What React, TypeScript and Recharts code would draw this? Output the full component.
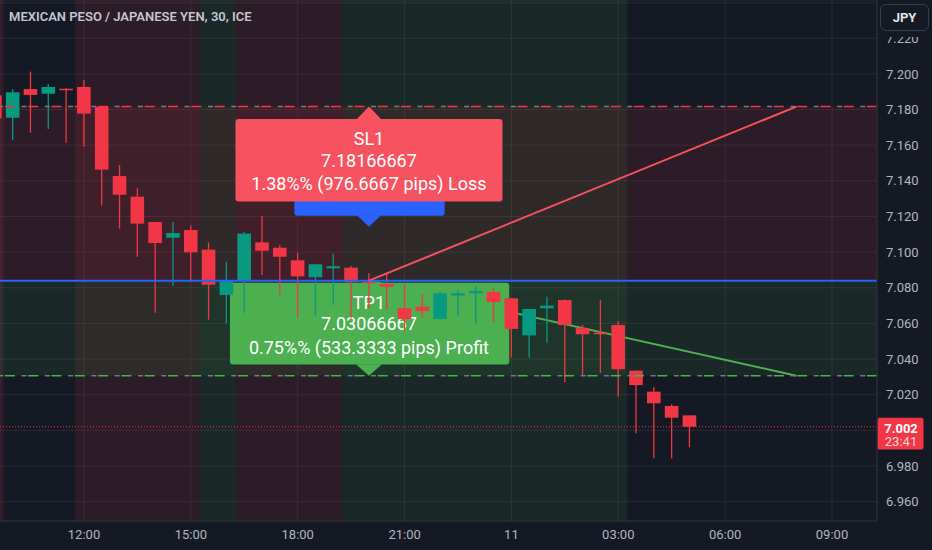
import {
    ComposedChart,
    Bar,
    XAxis,
    YAxis,
    CartesianGrid,
    ReferenceArea,
    ReferenceLine,
    ReferenceDot,
} from "recharts";

// 30 minute bars, index 0 = 09:30 (day 10)
const times = [
    "09:30", "10:00", "10:30", "11:00", "11:30", "12:00", "12:30", "13:00", "13:30", "14:00",
    "14:30", "15:00", "15:30", "16:00", "16:30", "17:00", "17:30", "18:00", "18:30", "19:00",
    "19:30", "20:00", "20:30", "21:00", "21:30", "22:00", "22:30", "23:00", "23:30", "00:00",
    "00:30", "01:00", "01:30", "02:00", "02:30", "03:00", "03:30", "04:00", "04:30", "05:00",
];

const opens = [
    7.188, 7.1754, 7.1915, 7.1889, 7.1917, 7.1927, 7.1815, 7.1427, 7.1311, 7.1169,
    7.1081, 7.1124, 7.1014, 7.076, 7.0838, 7.1055, 7.1025, 7.0954, 7.0859, 7.0909,
    7.0913, 7.0834, 7.0821, 7.0685, 7.0694, 7.0625, 7.0756, 7.0769, 7.0776, 7.0741,
    7.0533, 7.0685, 7.0731, 7.0574, 7.0548, 7.0591, 7.0335, 7.0217, 7.0137, 7.0084,
];
const highs = [
    7.19, 7.1914, 7.2013, 7.1944, 7.1919, 7.1966, 7.1815, 7.1489, 7.1358, 7.1169,
    7.1169, 7.1149, 7.1055, 7.0945, 7.1114, 7.1203, 7.104, 7.0997, 7.0932, 7.099,
    7.0922, 7.0881, 7.0881, 7.082, 7.0763, 7.0775, 7.0788, 7.081, 7.0803, 7.0741,
    7.0681, 7.075, 7.0735, 7.0591, 7.0731, 7.0614, 7.0335, 7.0242, 7.0146, 7.0084,
];
const lows = [
    7.17, 7.1629, 7.167, 7.1691, 7.1614, 7.1592, 7.1261, 7.1132, 7.0974, 7.066,
    7.0812, 7.0831, 7.0621, 7.0601, 7.066, 7.0872, 7.076, 7.0634, 7.0642, 7.0703,
    7.0629, 7.0685, 7.0675, 7.0557, 7.0632, 7.0623, 7.0642, 7.0595, 7.0608, 7.041,
    7.0408, 7.0492, 7.027, 7.0311, 7.0324, 7.0189, 6.9983, 6.9843, 6.9843, 6.9905,
];
const closes = [
    7.175, 7.1897, 7.1882, 7.1927, 7.1912, 7.1777, 7.1463, 7.1322, 7.116, 7.1051,
    7.1107, 7.0999, 7.0817, 7.0836, 7.1104, 7.1008, 7.0974, 7.0864, 7.0932, 7.0921,
    7.0831, 7.0828, 7.0806, 7.0625, 7.067, 7.0769, 7.0769, 7.0782, 7.072, 7.0569,
    7.0681, 7.07, 7.0591, 7.0539, 7.0539, 7.0343, 7.0254, 7.0152, 7.0071, 7.002,
];

const xTicks = [5, 11, 17, 23, 29, 35, 41, 47];
const xTickLabels = ["12:00", "15:00", "18:00", "21:00", "11", "03:00", "06:00", "09:00"];
const yTicks = [6.96, 6.98, 7.0, 7.02, 7.04, 7.06, 7.08, 7.1, 7.12, 7.14, 7.16, 7.18, 7.2, 7.22, 7.24];
const hiddenYTicks = [7.0, 7.24];

// session shading (in bar index units)
const sessionFrom = [-0.5, 4.5, 11.5, 13.5, 19.5];
const sessionTo = [0.5, 11.5, 13.5, 19.5, 35.5];
const sessionKind = ["loss", "loss", "profit", "loss", "profit"];

// short position tool
const entryIndex = 21;
const endIndex = 45;
const entryPrice = 7.084;
const stopPrice = 7.18166667;
const targetPrice = 7.03066667;
const lastPrice = 7.002;
const countdown = "23:41";

const data = times.map((t, i) => ({
    i,
    time: t,
    open: opens[i],
    high: highs[i],
    low: lows[i],
    close: closes[i],
    range: [lows[i], highs[i]],
}));

const BG = "#151924";
const UP = "#089981";
const DOWN = "#f23645";
const AXIS_TEXT = "#b2b5be";
const FONT = "Roboto, sans-serif";

const Candle = (props: any) => {
    const { x, y, width, height, payload } = props;
    if (!payload || height == null) return null;
    const { open, close, high, low } = payload;
    const color = close >= open ? UP : DOWN;
    const ratio = height / (high - low);
    const yOpen = y + (high - open) * ratio;
    const yClose = y + (high - close) * ratio;
    const top = Math.min(yOpen, yClose);
    const bodyH = Math.max(Math.abs(yOpen - yClose), 1.5);
    const cx = x + width / 2;
    return (
        <g>
            <line x1={cx} x2={cx} y1={y} y2={y + height} stroke={color} strokeWidth={1.3} />
            <rect x={x} y={top} width={width} height={bodyH} fill={color} />
        </g>
    );
};

const labelText = {
    fill: "#ffffff",
    fontSize: 18,
    fontFamily: FONT,
    textAnchor: "middle" as const,
    dominantBaseline: "central" as const,
};

const StopLabel = (props: any) => {
    const { cx, cy } = props;
    return (
        <g>
            <polygon points={`${cx - 12},${cy + 12.5} ${cx + 12},${cy + 12.5} ${cx},${cy}`} fill="#f7525f" />
            <rect x={cx - 133.5} y={cy + 12.3} width={267} height={82.7} rx={3} fill="#f7525f" />
            <text x={cx} y={cy + 31.5} {...labelText}>SL1</text>
            <text x={cx} y={cy + 53.5} {...labelText}>{stopPrice.toFixed(8)}</text>
            <text x={cx} y={cy + 77} {...labelText}>1.38%% (976.6667 pips) Loss</text>
        </g>
    );
};

const EntryLabel = (props: any) => {
    const { cx, cy } = props;
    return (
        <g>
            <rect x={cx - 74.6} y={cy - 90} width={150.3} height={25} rx={3} fill="#2962ff" />
            <polygon points={`${cx - 12},${cy - 65.5} ${cx + 12},${cy - 65.5} ${cx},${cy - 54}`} fill="#2962ff" />
        </g>
    );
};

const TargetLabel = (props: any) => {
    const { cx, cy } = props;
    return (
        <g>
            <rect x={cx - 139} y={cy - 93} width={279.3} height={81.8} rx={3} fill="#4caf50" />
            <polygon points={`${cx - 13},${cy - 11.5} ${cx + 13},${cy - 11.5} ${cx},${cy}`} fill="#4caf50" />
            <text x={cx} y={cy - 73.5} {...labelText}>TP1</text>
            <text x={cx} y={cy - 52.5} {...labelText}>{targetPrice.toFixed(8)}</text>
            <text x={cx} y={cy - 28.5} {...labelText}>0.75%% (533.3333 pips) Profit</text>
        </g>
    );
};

const PriceTag = (props: any) => {
    const vb = props.viewBox || {};
    const x = vb.x + vb.width;
    const y = vb.y;
    return (
        <g>
            <rect x={x + 0.5} y={y - 9} width={46} height={31.7} rx={2} fill={DOWN} />
            <text x={x + 24} y={y + 1.5} fill="#ffffff" fontSize={13} fontWeight={700} fontFamily={FONT} textAnchor="middle" dominantBaseline="central">
                {lastPrice.toFixed(3)}
            </text>
            <text x={x + 24} y={y + 15} fill="#ffd6da" fontSize={13} fontFamily={FONT} textAnchor="middle" dominantBaseline="central">
                {countdown}
            </text>
        </g>
    );
};

export default function App() {
    return (
        <div style={{ position: "relative", width: 932, height: 550, background: BG, fontFamily: FONT }}>
            <style>{`body{margin:0;background:${BG};}`}</style>
            <ComposedChart
                width={932}
                height={550}
                data={data}
                margin={{ top: 0, right: 0, bottom: 0, left: 0 }}
            >
                <CartesianGrid stroke="#262a35" strokeWidth={1} />
                <XAxis
                    dataKey="i"
                    type="number"
                    domain={[0.2835, 49.526]}
                    allowDataOverflow
                    ticks={xTicks}
                    tickFormatter={(v: number) => xTickLabels[xTicks.indexOf(v)] ?? ""}
                    height={29}
                    axisLine={{ stroke: "#2a2e39" }}
                    tickLine={false}
                    tickSize={0}
                    tickMargin={9}
                    tick={{ fill: AXIS_TEXT, fontSize: 13, fontFamily: FONT }}
                    interval={0}
                />
                <YAxis
                    orientation="right"
                    type="number"
                    domain={[6.94912, 7.24149]}
                    allowDataOverflow
                    ticks={yTicks}
                    tickFormatter={(v: number) => (hiddenYTicks.includes(v) ? "" : v.toFixed(3))}
                    width={55}
                    axisLine={{ stroke: "#2a2e39" }}
                    tickLine={false}
                    tickSize={0}
                    tickMargin={9}
                    tick={{ fill: AXIS_TEXT, fontSize: 13, fontFamily: FONT, textAnchor: "start" }}
                    interval={0}
                />

                {sessionFrom.map((from, k) => (
                    <ReferenceArea
                        key={`s${k}`}
                        x1={from}
                        x2={sessionTo[k]}
                        ifOverflow="hidden"
                        fill={sessionKind[k] === "loss" ? "#f23645" : "#4caf50"}
                        fillOpacity={0.1}
                        stroke="none"
                    />
                ))}
                <ReferenceArea y1={entryPrice} y2={stopPrice} fill="#f23645" fillOpacity={0.1} stroke="none" ifOverflow="hidden" />
                <ReferenceArea y1={targetPrice} y2={entryPrice} fill="#4caf50" fillOpacity={0.1} stroke="none" ifOverflow="hidden" />

                <ReferenceLine
                    segment={[{ x: entryIndex, y: entryPrice }, { x: endIndex, y: targetPrice }]}
                    stroke="#4caf50"
                    strokeWidth={2}
                    zIndex={200}
                />
                <ReferenceDot x={entryIndex} y={targetPrice} shape={TargetLabel} zIndex={250} ifOverflow="visible" />

                <Bar
                    dataKey="range"
                    barSize={13.6}
                    shape={Candle}
                    isAnimationActive={false}
                />

                <ReferenceLine y={targetPrice} stroke="#787b86" strokeWidth={1.5} strokeDasharray="5 18.3" strokeDashoffset={-11.7} />
                <ReferenceLine y={targetPrice} stroke="#4caf50" strokeWidth={1.5} strokeDasharray="10 13.3" />
                <ReferenceLine y={stopPrice} stroke="#787b86" strokeWidth={1.5} strokeDasharray="5 18.3" strokeDashoffset={-11.7} />
                <ReferenceLine y={stopPrice} stroke="#f23645" strokeWidth={1.5} strokeDasharray="10 13.3" />
                <ReferenceLine y={entryPrice} stroke="#2962ff" strokeWidth={2} />
                <ReferenceLine
                    segment={[{ x: entryIndex, y: entryPrice }, { x: endIndex, y: stopPrice }]}
                    stroke="#f7525f"
                    strokeWidth={2}
                />
                <ReferenceLine
                    y={lastPrice}
                    stroke="#f23645"
                    strokeWidth={1}
                    strokeDasharray="1 2"
                    label={{ content: (p: any) => <PriceTag {...p} /> }}
                />
                <ReferenceDot x={entryIndex} y={entryPrice} shape={EntryLabel} ifOverflow="visible" zIndex={900} />
                <ReferenceDot x={entryIndex} y={stopPrice} shape={StopLabel} ifOverflow="visible" zIndex={950} />
            </ComposedChart>

            <div
                style={{
                    position: "absolute",
                    left: 9,
                    top: 9,
                    fontSize: 13,
                    fontWeight: 600,
                    color: "#c3c6ce",
                    whiteSpace: "nowrap",
                    lineHeight: "16px",
                }}
            >
                MEXICAN PESO / JAPANESE YEN, 30, ICE
            </div>
            <div style={{ position: "absolute", left: 878, top: 0, width: 54, height: 36.5, background: BG }} />
            <div
                style={{
                    position: "absolute",
                    left: 880,
                    top: 3.5,
                    width: 47,
                    height: 25,
                    border: "1px solid #3a3e4a",
                    borderRadius: 6,
                    color: "#e0e3eb",
                    fontSize: 13,
                    fontWeight: 700,
                    display: "flex",
                    alignItems: "center",
                    justifyContent: "center",
                    boxSizing: "content-box",
                }}
            >
                JPY
            </div>
        </div>
    );
}
